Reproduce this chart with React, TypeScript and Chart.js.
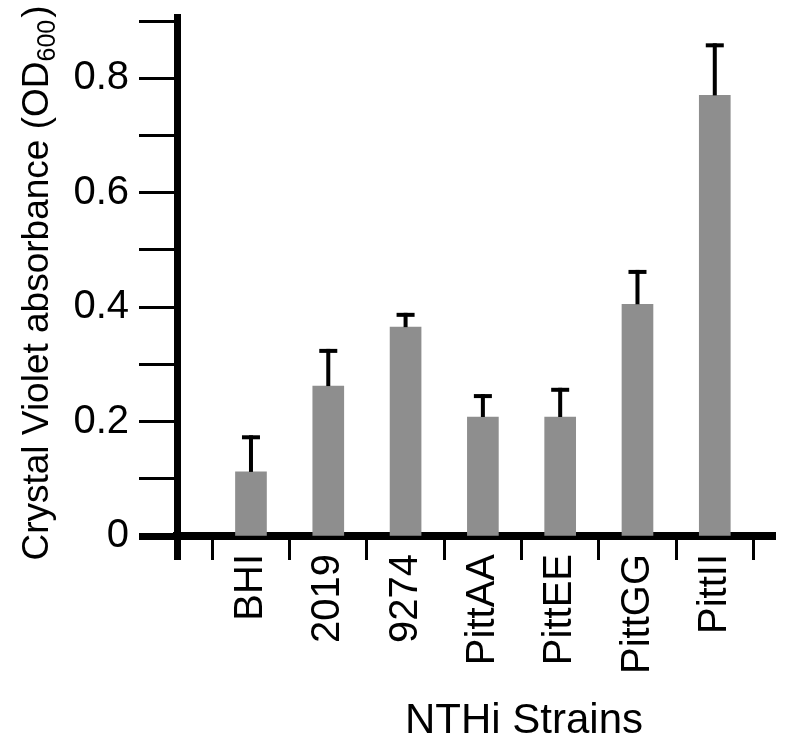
import React, { useEffect, useRef } from "react";
import { Chart, registerables } from "chart.js";

Chart.register(...registerables);

const strains = ["BHI", "2019", "9274", "PittAA", "PittEE", "PittGG", "PittII"];
const absorbance = [0.112, 0.262, 0.365, 0.208, 0.208, 0.405, 0.770];
const errorUp = [0.064, 0.065, 0.025, 0.040, 0.051, 0.060, 0.091];
const yTickValues = [0, 0.1, 0.2, 0.3, 0.4, 0.5, 0.6, 0.7, 0.8, 0.9];
const yLabelled = [0, 0.2, 0.4, 0.6, 0.8];
const xTitle = "NTHi Strains";
const yTitleMain = "Crystal Violet absorbance (OD";
const yTitleSub = "600";
const yTitleEnd = ")";

const FONT = "'Liberation Sans', Arial, Helvetica, sans-serif";
const X_MIN = 0.043;
const X_MAX = 7.779;

const errorBarPlugin = {
  id: "errorBars",
  afterDatasetsDraw(chart: any) {
    const ctx = chart.ctx;
    const xs = chart.scales.x;
    const ys = chart.scales.y;
    ctx.save();
    ctx.fillStyle = "#000";
    absorbance.forEach((v, i) => {
      const x = xs.getPixelForValue(i + 1);
      const yBar = ys.getPixelForValue(v);
      const yTop = ys.getPixelForValue(v + errorUp[i]);
      ctx.fillRect(x - 2, yTop, 4, yBar - yTop);
      ctx.fillRect(x - 9, yTop, 18, 4);
    });
    ctx.restore();
  },
};

const titlePlugin = {
  id: "titles",
  afterDraw(chart: any) {
    const ctx = chart.ctx;
    ctx.save();
    ctx.fillStyle = "#000";
    ctx.font = `42px ${FONT}`;
    ctx.textAlign = "center";
    ctx.textBaseline = "alphabetic";
    ctx.fillText(xTitle, 524, 733);
    const mainFont = `37px ${FONT}`;
    const subFont = `25px ${FONT}`;
    ctx.font = mainFont;
    const w1 = ctx.measureText(yTitleMain).width;
    const w3 = ctx.measureText(yTitleEnd).width;
    ctx.font = subFont;
    const w2 = ctx.measureText(yTitleSub).width;
    const total = w1 + w2 + w3 + 2;
    ctx.translate(48, 283);
    ctx.rotate(-Math.PI / 2);
    ctx.textAlign = "left";
    const start = -total / 2;
    ctx.font = mainFont;
    ctx.fillText(yTitleMain, start, 0);
    ctx.font = subFont;
    ctx.fillText(yTitleSub, start + w1, 7);
    ctx.font = mainFont;
    ctx.fillText(yTitleEnd, start + w1 + w2 + 2, 0);
    ctx.restore();
  },
};

export default function App() {
  const ref = useRef<HTMLCanvasElement>(null);
  useEffect(() => {
    if (!ref.current) return;
    const chart = new Chart(ref.current, {
      type: "bar",
      data: {
        datasets: [
          {
            data: absorbance.map((v, i) => ({ x: i + 1, y: v })),
            backgroundColor: "#8e8e8e",
            borderWidth: 0,
            barThickness: 31,
          },
        ],
      },
      options: {
        animation: false,
        responsive: false,
        devicePixelRatio: 1,
        layout: { padding: { top: 17, right: 10, left: 0, bottom: 0 } },
        plugins: { legend: { display: false }, tooltip: { enabled: false } },
        scales: {
          x: {
            type: "linear",
            min: X_MIN,
            max: X_MAX,
            offset: false,
            z: 1,
            afterBuildTicks: (scale: any) => {
              const t: any[] = [{ value: X_MIN }];
              for (let i = 0; i <= strains.length; i++) {
                t.push({ value: i + 0.5 });
                if (i < strains.length) t.push({ value: i + 1 });
              }
              scale.ticks = t;
            },
            afterFit: (scale: any) => {
              scale.height = 208;
              scale.paddingLeft = 0;
              scale.paddingRight = 0;
            },
            border: { display: true, color: "#000", width: 8 },
            grid: {
              offset: false,
              drawOnChartArea: false,
              drawTicks: true,
              tickLength: 24,
              tickWidth: (c: any) => (c.tick && c.tick.value === X_MIN ? 7 : 3),
              tickColor: (c: any) =>
                c.tick && Number.isInteger(c.tick.value) ? "rgba(0,0,0,0)" : "#000",
            },
            ticks: {
              autoSkip: false,
              minRotation: 90,
              maxRotation: 90,
              padding: -6,
              color: "#000",
              font: { family: FONT, size: 40 },
              callback: (v: any) => {
                const n = Number(v);
                return Number.isInteger(n) && n >= 1 && n <= strains.length ? strains[n - 1] : "";
              },
            },
          },
          y: {
            type: "linear",
            min: 0,
            max: 0.907,
            z: 1,
            afterBuildTicks: (scale: any) => {
              scale.ticks = yTickValues.map((v) => ({ value: v }));
            },
            afterFit: (scale: any) => {
              scale.width = 177;
              scale.paddingTop = 0;
              scale.paddingBottom = 0;
            },
            border: { display: true, color: "#000", width: 7 },
            grid: {
              drawOnChartArea: false,
              drawTicks: true,
              tickLength: 38,
              tickWidth: (c: any) => (c.tick && c.tick.value === 0 ? 7 : 3),
              tickColor: "#000",
            },
            ticks: {
              padding: 10,
              color: "#000",
              font: { family: FONT, size: 40 },
              callback: (v: any) => {
                const n = Number(v);
                const hit = yLabelled.find((l) => Math.abs(l - n) < 1e-6);
                if (hit === undefined) return "";
                return hit === 0 ? "0" : hit.toFixed(1);
              },
            },
          },
        },
      },
      plugins: [errorBarPlugin, titlePlugin],
    } as any);
    return () => chart.destroy();
  }, []);
  return (
    <div style={{ position: "fixed", left: 0, top: 0, width: 785, height: 744, background: "#fff" }}>
      <canvas ref={ref} width={785} height={744} style={{ display: "block" }} />
    </div>
  );
}
